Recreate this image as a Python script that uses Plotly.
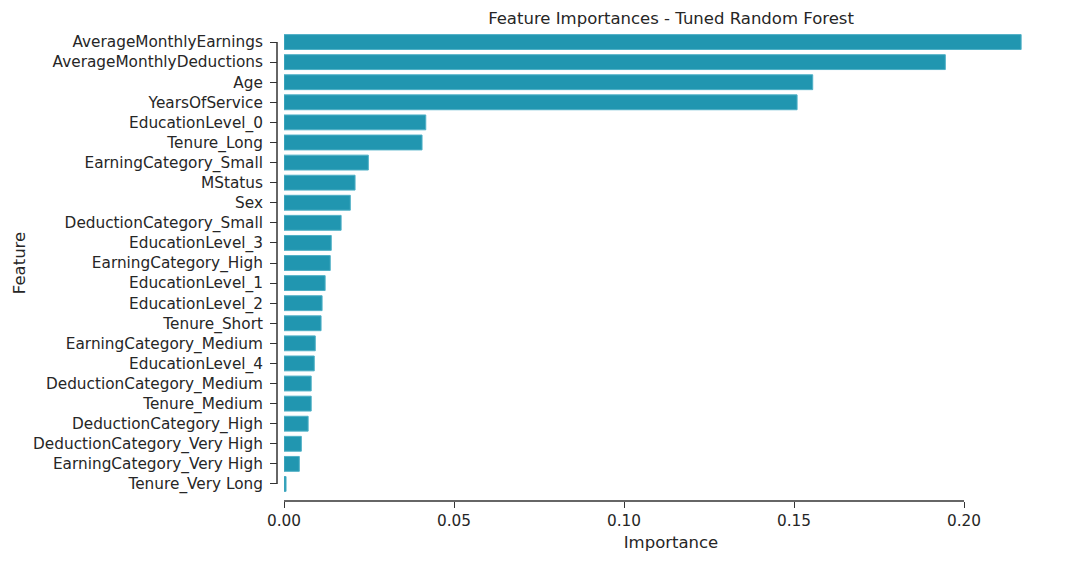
import plotly.graph_objects as go

# Feature importances (sorted, largest first)
features = [
    "AverageMonthlyEarnings", "AverageMonthlyDeductions", "Age", "YearsOfService",
    "EducationLevel_0", "Tenure_Long", "EarningCategory_Small", "MStatus", "Sex",
    "DeductionCategory_Small", "EducationLevel_3", "EarningCategory_High",
    "EducationLevel_1", "EducationLevel_2", "Tenure_Short", "EarningCategory_Medium",
    "EducationLevel_4", "DeductionCategory_Medium", "Tenure_Medium",
    "DeductionCategory_High", "DeductionCategory_Very High",
    "EarningCategory_Very High", "Tenure_Very Long",
]
importances = [
    0.2168, 0.1945, 0.1555, 0.1509, 0.0417, 0.0406, 0.0248, 0.0209, 0.0195,
    0.0168, 0.0139, 0.0136, 0.0121, 0.0112, 0.0109, 0.0092, 0.0089, 0.0080,
    0.0080, 0.0071, 0.0051, 0.0045, 0.0006,
]
x_ticks = [0.0, 0.05, 0.10, 0.15, 0.20]

W, H = 1068, 563
# page body adds an 8px margin, so the figure sits 8px right / down
left, right, top, bottom = 269, 18, 24, 70
offset = 7  # despine offset in pixels
plot_w = W - left - right
plot_h = H - top - bottom

font = "DejaVu Sans, Verdana, sans-serif"
ink = "#262626"
spine = "#333333"

fig = go.Figure()
fig.add_trace(go.Bar(
    x=importances, y=features, orientation="h",
    width=0.74,
    marker=dict(color="#2196b0", line=dict(color="#4fb0c6", width=1)),
))

x_max = max(importances) * 1.05
fig.update_layout(
    width=W, height=H,
    margin=dict(l=left, r=right, t=top, b=bottom),
    plot_bgcolor="white", paper_bgcolor="white",
    showlegend=False,
    font=dict(family=font, size=15.3, color=ink),
    xaxis=dict(
        domain=[offset / plot_w, 1],
        range=[0, x_max],
        anchor="free", position=0,
        tickvals=x_ticks, tickformat=".2f",
        ticks="outside", ticklen=6, tickwidth=1.3, tickcolor=spine,
        showgrid=False, zeroline=False, showline=False,
        title=dict(text="Importance", font=dict(size=16.5), standoff=7),
    ),
    yaxis=dict(
        domain=[offset / plot_h, 1],
        range=[len(features) - 0.5, -0.5],
        anchor="free", position=0,
        categoryorder="array", categoryarray=features,
        ticks="outside", ticklen=7, tickwidth=1.3, tickcolor=spine,
        ticklabelstandoff=4,
        showgrid=False, zeroline=False, showline=False,
        title=dict(text="Feature", font=dict(size=16.5), standoff=2),
    ),
    title=dict(
        text="Feature Importances - Tuned Random Forest",
        x=(671 - 8 - left) / plot_w, xref="paper", xanchor="center",
        y=1 - 10 / H, yanchor="middle",
        font=dict(size=16.5, color=ink),
    ),
)

# trimmed, offset spines (seaborn despine style)
fig.add_shape(type="line", xref="paper", yref="y",
              x0=0, x1=0, y0=features[0], y1=features[-1],
              line=dict(color=spine, width=1.5))
fig.add_shape(type="line", xref="x", yref="paper",
              x0=x_ticks[0], x1=x_ticks[-1], y0=0, y1=0,
              line=dict(color=spine, width=1.5))

fig.write_html("out.html")
